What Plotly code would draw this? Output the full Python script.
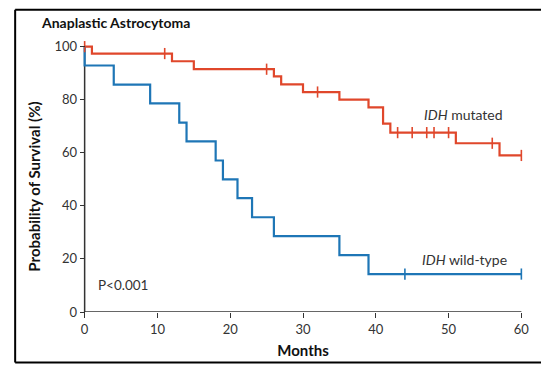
import plotly.graph_objects as go

# IDH mutated (red)
mut_time = [0, 1, 12, 15, 26, 27, 30, 35, 39, 41, 42, 51, 57, 60]
mut_surv = [100, 97.4, 94.5, 91.5, 88.8, 85.8, 82.9, 80.0, 77.1, 71.0, 67.6, 63.6, 59.0, 59.0]
mut_censor = [0, 11, 25, 32, 43, 45, 47, 48, 50, 56, 60]

# IDH wild-type (blue)
wt_time = [0, 0, 4, 9, 13, 14, 18, 19, 21, 23, 26, 35, 39, 60]
wt_surv = [100, 92.9, 85.7, 78.6, 71.4, 64.3, 57.1, 50.0, 42.9, 35.7, 28.6, 21.4, 14.3, 14.3]
wt_censor = [44, 60]

x_ticks = [0, 10, 20, 30, 40, 50, 60]
y_ticks = [0, 20, 40, 60, 80, 100]

RED = "#E0472B"
BLUE = "#1E76B6"
FONT = "Lato"


def step_at(times, surv, t):
    val = surv[0]
    for ti, si in zip(times, surv):
        if ti <= t:
            val = si
    return val


fig = go.Figure()
fig.add_trace(go.Scatter(x=mut_time, y=mut_surv, mode="lines", line_shape="hv",
                         line=dict(color=RED, width=2.2), hoverinfo="skip", showlegend=False))
fig.add_trace(go.Scatter(x=wt_time, y=wt_surv, mode="lines", line_shape="hv",
                         line=dict(color=BLUE, width=2.2), hoverinfo="skip", showlegend=False))
fig.add_trace(go.Scatter(x=mut_censor, y=[step_at(mut_time, mut_surv, t) for t in mut_censor],
                         mode="markers", cliponaxis=False,
                         marker=dict(symbol="line-ns-open", size=8, color=RED,
                                     line=dict(color=RED, width=1.6)),
                         showlegend=False, hoverinfo="skip"))
fig.add_trace(go.Scatter(x=wt_censor, y=[step_at(wt_time, wt_surv, t) for t in wt_censor],
                         mode="markers", cliponaxis=False,
                         marker=dict(symbol="line-ns-open", size=8, color=BLUE,
                                     line=dict(color=BLUE, width=1.6)),
                         showlegend=False, hoverinfo="skip"))

AX = "#333333"
fig.update_layout(
    width=541, height=368,
    margin=dict(l=81.33, r=12.33, t=44, b=54.7),
    paper_bgcolor="white", plot_bgcolor="white",
    font=dict(family=FONT, color="#222222", size=13),
    xaxis=dict(range=[-0.5, 60.5], tickvals=x_ticks, ticks="outside", ticklen=5,
               tickwidth=1, tickcolor=AX, showline=False, showgrid=False, zeroline=False,
               tickfont=dict(size=13, color="#333333"),
               title=dict(text="<b>Months</b>", font=dict(size=15, color="#111111"), standoff=9)),
    yaxis=dict(range=[0, 101], tickvals=y_ticks, ticks="outside", ticklen=5,
               tickwidth=1, tickcolor=AX, showline=False, showgrid=False, zeroline=False,
               anchor="free", position=0.5 / 61,
               tickfont=dict(size=13, color="#333333")),
)

shapes = [
    dict(type="line", xref="x", yref="y", x0=0, x1=60, y0=0, y1=0, line=dict(color=AX, width=1.5), layer="below"),
    dict(type="line", xref="x", yref="y", x0=0, x1=0, y0=0, y1=100, line=dict(color=AX, width=1.5), layer="below"),
    # outer frame
    dict(type="line", xref="paper", yref="paper", x0=(15 - 81.33) / 447.3, x1=1.1,
         y0=1 + (44 - 9.5) / 269.3, y1=1 + (44 - 9.5) / 269.3, line=dict(color="black", width=2)),
    dict(type="line", xref="paper", yref="paper", x0=(15 - 81.33) / 447.3, x1=(15 - 81.33) / 447.3,
         y0=1 + (44 - 9.5) / 269.3, y1=-(364 - 313.3) / 269.3, line=dict(color="black", width=2)),
    dict(type="line", xref="paper", yref="paper", x0=(15 - 81.33) / 447.3, x1=1.1,
         y0=-(364 - 313.3) / 269.3, y1=-(364 - 313.3) / 269.3, line=dict(color="black", width=2)),
]
fig.update_layout(shapes=shapes)

annotations = [
    dict(text="<b>Anaplastic Astrocytoma</b>", xref="paper", yref="paper",
         x=(39.0 - 81.33) / 447.3, y=1 + (44 - 22.4) / 269.3, xanchor="left", yanchor="middle",
         showarrow=False, font=dict(size=14, color="#111111")),
    dict(text="<b>Probability of Survival (%)</b>", xref="paper", yref="paper",
         x=(34.3 - 81.33) / 447.3, y=1 - (187 - 44) / 269.3, xanchor="center", yanchor="middle",
         textangle=-90, showarrow=False, font=dict(size=15, color="#111111")),
    dict(text="<i>IDH</i> mutated", x=46.4, y=74.4, xanchor="left", yanchor="middle",
         showarrow=False, font=dict(size=14, color="#333333")),
    dict(text="<i>IDH</i> wild-type", x=46.1, y=19.6, xanchor="left", yanchor="middle",
         showarrow=False, font=dict(size=14, color="#333333")),
    dict(text="P<0.001", x=1.6, y=10.0, xanchor="left", yanchor="middle",
         showarrow=False, font=dict(size=13.5, color="#333333")),
]
fig.update_layout(annotations=annotations)

fig.write_html("out.html", config={"displayModeBar": False},
               post_script="document.body.style.margin='0';document.body.style.padding='0';")
